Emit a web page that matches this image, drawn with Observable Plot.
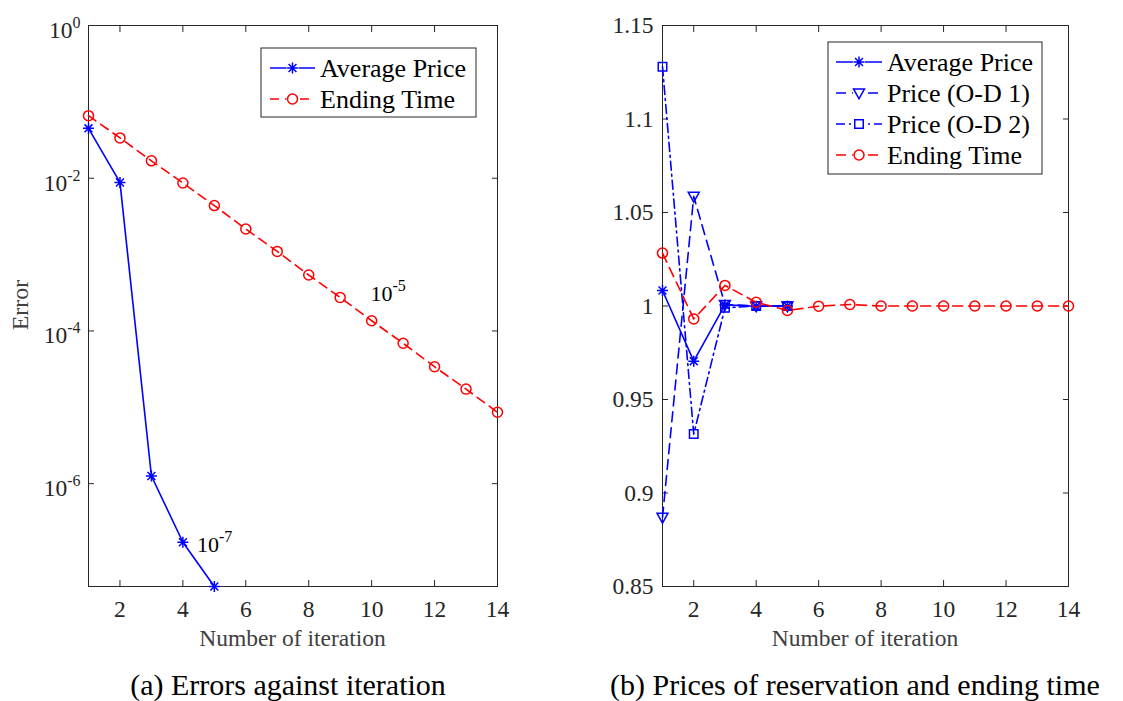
<!DOCTYPE html>
<html><head><meta charset="utf-8">
<script src="https://cdn.jsdelivr.net/npm/d3@7"></script>
<script src="https://cdn.jsdelivr.net/npm/@observablehq/plot@0.6"></script>
<style>
html,body{margin:0;padding:0;background:#fff;overflow:hidden;width:1123px;height:701px;}
#wrap{position:relative;width:1123px;height:701px;font-family:"Liberation Serif","Times New Roman",serif;}
.panel{position:absolute;top:0;}
#overlay{position:absolute;left:0;top:0;pointer-events:none;}
</style></head><body><div id="wrap"></div>
<script>
// ---------------- data ----------------
const iterations = [1,2,3,4,5,6,7,8,9,10,11,12,13,14];
// (a) errors
const errAvgPrice = [0.045, 0.0088, 1.26e-6, 1.71e-7, 4.5e-8];
const errEndingTime = [0.066, 0.0337, 0.0169, 0.00867, 0.00438, 0.00216, 0.0011, 0.00054, 0.000275, 0.000136, 6.9e-5, 3.4e-5, 1.73e-5, 8.6e-6];
// (b) prices
const priceAvg = [1.0083, 0.9705, 1.0006, 0.9999, 1.0];
const priceOD1 = [0.887, 1.0586, 1.0008, 1.0, 1.0];
const priceOD2 = [1.128, 0.9315, 0.999, 1.0, 1.0];
const endingTime = [1.0283, 0.9931, 1.011, 1.002, 0.9976, 0.9999, 1.0008, 1.0, 1.0, 1.0, 1.0, 1.0, 1.0, 1.0];
// ticks
const xTicks = [2,4,6,8,10,12,14];
const xTickLabels = ["2","4","6","8","10","12","14"];
const errTicks = [1e-6,1e-4,1e-2,1];
const errTickLabels = ["10^-6","10^-4","10^-2","10^0"];
const priceTicks = [0.85,0.9,0.95,1,1.05,1.1,1.15];
const priceTickLabels = ["0.85","0.9","0.95","1","1.05","1.1","1.15"];
// annotations on (a)
const annotX = [9.96, 4.45];
const annotY = [3.5e-4, 1.83e-7];
const annotLabels = ["10^-5","10^-7"];
// texts
const xLabel = "Number of iteration";
const yLabelA = "Error";
const captionA = "(a) Errors against iteration";
const captionB = "(b) Prices of reservation and ending time";
const legendA = ["Average Price","Ending Time"];
const legendB = ["Average Price","Price (O-D 1)","Price (O-D 2)","Ending Time"];

// ---------------- styles ----------------
const BLUE = "#0000ff", RED = "#ff0000", AX = "#262626";
const FONT = "'Liberation Serif', 'Times New Roman', serif";
const ns = "http://www.w3.org/2000/svg";

const star8 = {draw(ctx, size){ const r = Math.sqrt(size/Math.PI); const d = r*0.72;
  ctx.moveTo(-r,0); ctx.lineTo(r,0); ctx.moveTo(0,-r); ctx.lineTo(0,r);
  ctx.moveTo(-d,-d); ctx.lineTo(d,d); ctx.moveTo(-d,d); ctx.lineTo(d,-d);}};
const triDown = {draw(ctx, size){ const r = Math.sqrt(size/Math.PI);
  ctx.moveTo(-r,-r*0.75); ctx.lineTo(r,-r*0.75); ctx.lineTo(0,r*1.05); ctx.closePath();}};
const circ = {draw(ctx,size){ const r = Math.sqrt(size/Math.PI); ctx.moveTo(r,0); ctx.arc(0,0,r,0,2*Math.PI);}};
const sq = {draw(ctx,size){ const r = Math.sqrt(size/Math.PI)*0.85; ctx.rect(-r,-r,2*r,2*r);}};

const series = (xs, ys) => ys.map((y,i)=>({x: xs[i], y}));

function axes(yTicks, yFmt, yPad){
  return [
    Plot.frame({stroke: AX, strokeWidth: 1}),
    Plot.axisX({anchor:"bottom", ticks: xTicks, tickSize: 0, tickPadding: 14, tickFormat: d => xTickLabels[xTicks.indexOf(d)], label: null, fill: AX}),
    Plot.axisX({anchor:"bottom", ticks: xTicks, tickSize: -6, fill: "none", label: null, stroke: AX}),
    Plot.axisX({anchor:"top", ticks: xTicks, tickSize: -6, fill: "none", label: null, stroke: AX}),
    Plot.axisY({anchor:"left", ticks: yTicks, tickSize: 0, tickPadding: yPad, tickFormat: yFmt, label: null, fill: AX}),
    Plot.axisY({anchor:"left", ticks: yTicks, tickSize: -6, fill: "none", label: null, stroke: AX}),
    Plot.axisY({anchor:"right", ticks: yTicks, tickSize: -6, fill: "none", label: null, stroke: AX})
  ];
}

// ---------------- panel (a) ----------------
const left = Plot.plot({
  width: 560, height: 660,
  marginLeft: 88, marginRight: 63, marginTop: 25, marginBottom: 74,
  style: {fontFamily: FONT, fontSize: "23.5px", background: "transparent", overflow: "visible"},
  x: {domain: [1,14]},
  y: {type: "log", domain: [d3.min(errAvgPrice), 1]},
  marks: [
    ...axes(errTicks, d => errTickLabels[errTicks.indexOf(d)], 8),
    Plot.line(series(iterations, errAvgPrice), {x:"x", y:"y", stroke: BLUE, strokeWidth: 1.6}),
    Plot.dot(series(iterations, errAvgPrice), {x:"x", y:"y", symbol: star8, r: 5.5, stroke: BLUE, fill: "none", strokeWidth: 1.5}),
    Plot.line(series(iterations, errEndingTime), {x:"x", y:"y", stroke: RED, strokeWidth: 1.6, strokeDasharray: "9,6"}),
    Plot.dot(series(iterations, errEndingTime), {x:"x", y:"y", symbol: circ, r: 5, stroke: RED, fill: "none", strokeWidth: 1.5}),
    Plot.text(annotLabels.map((t,i)=>({x: annotX[i], y: annotY[i], t})), {x:"x", y:"y", text:"t", textAnchor:"start", fontSize: 22, fill: "#000"})
  ]
});
left.classList.add("panel"); left.style.left = "0px";

// ---------------- panel (b) ----------------
const right = Plot.plot({
  width: 563, height: 660,
  marginLeft: 102, marginRight: 55, marginTop: 25, marginBottom: 74,
  style: {fontFamily: FONT, fontSize: "23.5px", background: "transparent", overflow: "visible"},
  x: {domain: [1,14]},
  y: {domain: [0.85, 1.15]},
  marks: [
    ...axes(priceTicks, d => priceTickLabels[priceTicks.findIndex(v => Math.abs(v-d)<1e-9)], 9),
    Plot.line(series(iterations, priceAvg), {x:"x", y:"y", stroke: BLUE, strokeWidth: 1.6}),
    Plot.dot(series(iterations, priceAvg), {x:"x", y:"y", symbol: star8, r: 5.5, stroke: BLUE, fill: "none", strokeWidth: 1.5}),
    Plot.line(series(iterations, priceOD1), {x:"x", y:"y", stroke: BLUE, strokeWidth: 1.6, strokeDasharray: "10,6"}),
    Plot.dot(series(iterations, priceOD1), {x:"x", y:"y", symbol: triDown, r: 5.5, stroke: BLUE, fill: "none", strokeWidth: 1.5}),
    Plot.line(series(iterations, priceOD2), {x:"x", y:"y", stroke: BLUE, strokeWidth: 1.6, strokeDasharray: "9,4,2,4"}),
    Plot.dot(series(iterations, priceOD2), {x:"x", y:"y", symbol: sq, r: 5, stroke: BLUE, fill: "none", strokeWidth: 1.5}),
    Plot.line(series(iterations, endingTime), {x:"x", y:"y", stroke: RED, strokeWidth: 1.6, strokeDasharray: "10,6"}),
    Plot.dot(series(iterations, endingTime), {x:"x", y:"y", symbol: circ, r: 5, stroke: RED, fill: "none", strokeWidth: 1.5})
  ]
});
right.classList.add("panel"); right.style.left = "560px";

const wrap = document.getElementById("wrap");
wrap.append(left, right);

// superscripts for "10^k"
function superscriptify(svg, baseShift){
  svg.querySelectorAll("text").forEach(t => {
    const m = /^10\^(-?\d+)$/.exec(t.textContent.trim());
    if (!m) return;
    while (t.firstChild) t.removeChild(t.firstChild);
    const b = document.createElementNS(ns, "tspan"); b.textContent = "10"; b.setAttribute("dy", baseShift);
    const s = document.createElementNS(ns, "tspan"); s.textContent = m[1]; s.setAttribute("dy", -10); s.setAttribute("font-size", 16);
    t.append(b, s);
  });
}
superscriptify(left, 5);

// ---------------- overlay: labels, legends, captions ----------------
const ov = d3.select(wrap).append("svg").attr("id","overlay").attr("width",1123).attr("height",701)
  .attr("font-family", FONT);

ov.append("text").attr("x", 292.5).attr("y", 638).attr("dy","0.35em").attr("text-anchor","middle")
  .attr("font-size", 23.5).attr("fill", "#404040").text(xLabel);
ov.append("text").attr("x", 865).attr("y", 638).attr("dy","0.35em").attr("text-anchor","middle")
  .attr("font-size", 23.5).attr("fill", "#404040").text(xLabel);
ov.append("text").attr("transform","translate(20,305) rotate(-90)").attr("dy","0.35em").attr("text-anchor","middle")
  .attr("font-size", 24).attr("fill", "#404040").text(yLabelA);

ov.append("text").attr("x", 288).attr("y", 695).attr("text-anchor","middle").attr("font-size", 30).attr("fill","#000").text(captionA);
ov.append("text").attr("x", 610).attr("y", 695).attr("text-anchor","start").attr("font-size", 30).attr("fill","#000").text(captionB);

function legend(box, items){
  const g = ov.append("g");
  g.append("rect").attr("x", box.x).attr("y", box.y).attr("width", box.w).attr("height", box.h)
    .attr("fill","#fff").attr("stroke", AX).attr("stroke-width", 1);
  items.forEach((it, i) => {
    const y = box.y0 + i*box.dy;
    g.append("line").attr("x1", box.lx0).attr("x2", box.lx1).attr("y1", y).attr("y2", y)
      .attr("stroke", it.color).attr("stroke-width", 1.6).attr("stroke-dasharray", it.dash || null);
    const mx = (box.lx0+box.lx1)/2;
    g.append("rect").attr("x", mx-6).attr("y", y-6).attr("width",12).attr("height",12).attr("fill","#fff");
    g.append("path").attr("transform", `translate(${mx},${y})`).attr("d", d3.symbol(it.sym, it.size)())
      .attr("fill","none").attr("stroke", it.color).attr("stroke-width", 1.5);
    g.append("text").attr("x", box.tx).attr("y", y).attr("dy","0.33em").attr("font-size", 26).attr("fill","#000").text(it.label);
  });
}
legend({x:261, y:48, w:215, h:69, y0:68, dy:31, lx0:270, lx1:315, tx:320}, [
  {label: legendA[0], color: BLUE, sym: star8, size: Math.PI*30},
  {label: legendA[1], color: RED, dash: "9,6", sym: circ, size: Math.PI*25}
]);
legend({x:828, y:42, w:214, h:132, y0:62, dy:31, lx0:836, lx1:882, tx:887}, [
  {label: legendB[0], color: BLUE, sym: star8, size: Math.PI*30},
  {label: legendB[1], color: BLUE, dash: "10,6", sym: triDown, size: Math.PI*30},
  {label: legendB[2], color: BLUE, dash: "9,4,2,4", sym: sq, size: Math.PI*25},
  {label: legendB[3], color: RED, dash: "10,6", sym: circ, size: Math.PI*25}
]);
</script>
</body></html>
